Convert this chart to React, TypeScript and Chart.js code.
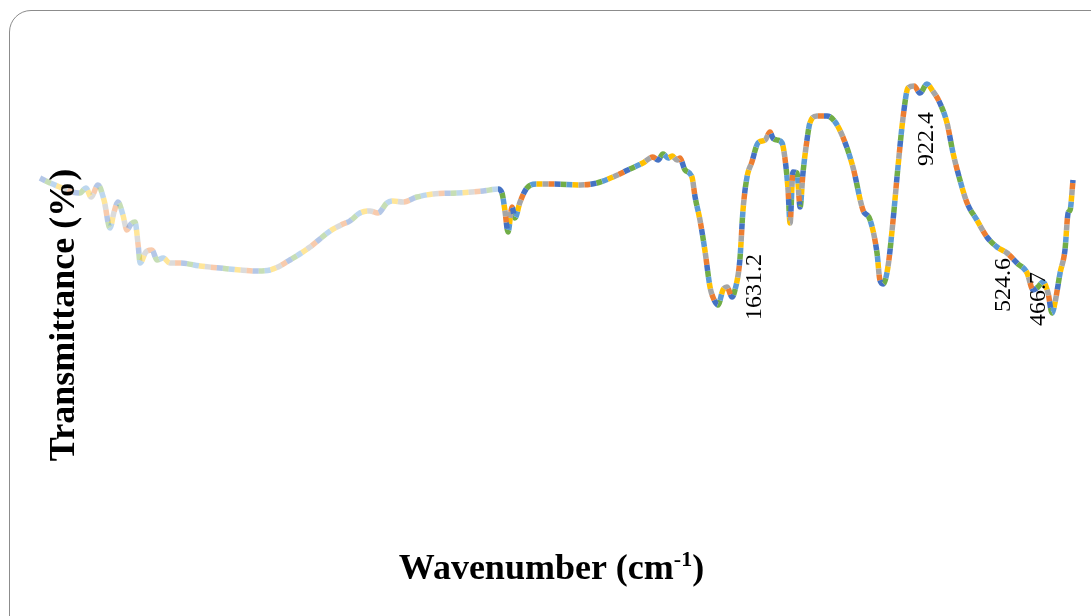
import React, { useEffect, useRef } from "react";
import { Chart, registerables } from "chart.js";

Chart.register(...registerables);

// Wavenumber (cm-1) and transmittance (%)
const wavenumbers = [
  4000, 3965, 3923, 3888, 3861, 3840, 3822, 3798, 3777, 3756, 3742, 3728, 3711, 3697, 3683, 3669,
  3658, 3651, 3631, 3610, 3592, 3571, 3547, 3512, 3442, 3373, 3303, 3244, 3198, 3129, 3059, 2989,
  2944, 2920, 2885, 2850, 2822, 2791, 2770, 2735, 2686, 2630, 2547, 2456, 2404, 2390, 2380, 2369,
  2355, 2345, 2327, 2303, 2268, 2212, 2118, 2059, 2003, 1944, 1899, 1864, 1846, 1829, 1811, 1797,
  1780, 1770, 1752, 1728, 1717, 1700, 1683, 1665, 1655, 1637, 1620, 1606, 1588, 1578, 1561, 1550,
  1536, 1519, 1498, 1473, 1456, 1446, 1432, 1414, 1404, 1393, 1386, 1376, 1362, 1351, 1341, 1327,
  1317, 1292, 1257, 1229, 1202, 1167, 1132, 1107, 1083, 1073, 1062, 1045, 1027, 1010, 992, 975,
  954, 933, 909, 891, 864, 839, 818, 794, 769, 735, 700, 665, 630, 595, 560, 539,
  522, 505, 487, 473, 463, 445, 428, 417, 410, 400,
];
const transmittance = [
  76.4, 75.4, 74.4, 73.6, 73.4, 74.4, 72.6, 75.0, 72.0, 66.4, 69.6, 71.6, 69.0, 66.0, 67.2, 67.6,
  63.0, 59.4, 61.6, 62.0, 60.0, 60.4, 59.4, 59.4, 58.8, 58.4, 58.0, 57.8, 58.0, 60.0, 62.6, 65.8,
  67.2, 67.8, 69.4, 69.8, 69.4, 71.4, 71.8, 71.6, 72.6, 73.2, 73.4, 73.8, 74.2, 73.4, 70.0, 65.6,
  70.6, 68.4, 71.6, 74.4, 75.2, 75.2, 75.0, 75.4, 76.6, 78.2, 79.4, 80.6, 80.0, 81.2, 80.4, 80.8,
  80.0, 80.4, 78.0, 76.6, 72.6, 68.0, 62.0, 54.6, 52.6, 51.0, 54.0, 54.6, 52.6, 54.0, 60.0, 70.0,
  76.6, 79.6, 83.4, 84.0, 85.6, 84.4, 84.0, 83.4, 80.4, 74.0, 67.4, 77.6, 77.4, 70.6, 77.4, 84.0,
  87.4, 88.8, 88.8, 87.6, 84.6, 78.6, 70.0, 68.0, 61.4, 56.0, 55.2, 58.6, 68.0, 78.6, 88.6, 94.4,
  94.8, 93.4, 95.2, 94.0, 91.4, 87.4, 81.4, 76.0, 71.4, 68.0, 64.6, 62.6, 61.4, 59.4, 57.4, 54.0,
  54.6, 55.6, 53.4, 49.4, 51.4, 57.4, 62.0, 69.4, 70.0, 76.0,
];

// Peak annotations (text, and where the text centre sits in data units)
const peakLabels = ["1631.2", "922.4", "524.6", "466.7"];
const peakLabelX = [1508, 909, 640, 518];
const peakLabelY = [54.6, 84.2, 55.0, 52.2];

const seriesColors = ["#4472C4", "#ED7D31", "#A5A5A5", "#FFC000", "#5B9BD5", "#70AD47"];
const fadeAbove = 2397; // region drawn faded in the reference

const xTitle = "Wavenumber (cm";
const xTitleSup = "-1";
const yTitle = "Transmittance (%)";

function hexToRgba(hex: string, a: number) {
  const n = parseInt(hex.slice(1), 16);
  return `rgba(${(n >> 16) & 255},${(n >> 8) & 255},${n & 255},${a})`;
}

const textPlugin = {
  id: "textPlugin",
  afterDatasetsDraw(chart: any) {
    const { ctx, chartArea, scales } = chart;
    ctx.save();
    ctx.fillStyle = "#000";
    ctx.font = "24px 'Liberation Serif', 'Times New Roman', serif";
    ctx.textAlign = "center";
    ctx.textBaseline = "middle";
    peakLabels.forEach((t, i) => {
      const px = scales.x.getPixelForValue(peakLabelX[i]);
      const py = scales.y.getPixelForValue(peakLabelY[i]);
      ctx.save();
      ctx.translate(px, py);
      ctx.rotate(-Math.PI / 2);
      ctx.fillText(t, 0, 0);
      ctx.restore();
    });
    const big = "bold 36px 'Liberation Serif', 'Times New Roman', serif";
    const small = "bold 22px 'Liberation Serif', 'Times New Roman', serif";
    ctx.textAlign = "left";
    ctx.textBaseline = "alphabetic";
    ctx.font = big;
    const w1 = ctx.measureText(xTitle).width;
    const w3 = ctx.measureText(")").width;
    ctx.font = small;
    const w2 = ctx.measureText(xTitleSup).width;
    const cx = (chartArea.left + chartArea.right) / 2 - 5;
    const base = chartArea.bottom + 19;
    let x0 = cx - (w1 + w2 + w3) / 2;
    ctx.font = big;
    ctx.fillText(xTitle, x0, base);
    x0 += w1;
    ctx.font = small;
    ctx.fillText(xTitleSup, x0, base - 13);
    x0 += w2;
    ctx.font = big;
    ctx.fillText(")", x0, base);
    ctx.save();
    ctx.translate(chartArea.left + 25, (chartArea.top + chartArea.bottom) / 2 + 5);
    ctx.rotate(-Math.PI / 2);
    ctx.textAlign = "center";
    ctx.textBaseline = "middle";
    ctx.font = big;
    ctx.fillText(yTitle, 0, 0);
    ctx.restore();
    ctx.restore();
  },
};

export default function App() {
  const ref = useRef<HTMLCanvasElement>(null);
  useEffect(() => {
    if (!ref.current) return;
    const points = wavenumbers.map((w, i) => ({ x: w, y: transmittance[i] }));
    const dash = 6;
    const datasets = seriesColors.map((c, i) => ({
      data: points,
      borderColor: c,
      borderWidth: 5.5,
      borderDash: [dash, dash * (seriesColors.length - 1)],
      borderDashOffset: i * dash,
      borderCapStyle: "butt" as const,
      pointRadius: 0,
      cubicInterpolationMode: "monotone" as const,
      clip: false as any,
      segment: {
        borderColor: (ctx: any) => (ctx.p1.parsed.x > fadeAbove ? hexToRgba(c, 0.4) : undefined),
      },
    }));
    const chart = new Chart(ref.current, {
      type: "line",
      data: { datasets },
      options: {
        animation: false,
        responsive: false,
        devicePixelRatio: 1,
        layout: { padding: { left: 40, right: 18, top: 60, bottom: 56 } },
        plugins: { legend: { display: false }, tooltip: { enabled: false } },
        scales: {
          x: { type: "linear", reverse: true, min: 400, max: 4000, display: false },
          y: { type: "linear", min: 0, max: 100, display: false },
        },
      },
      plugins: [textPlugin],
    });
    return () => chart.destroy();
  }, []);
  return (
    <div style={{ position: "fixed", left: 0, top: 0, width: 1091, height: 616, overflow: "hidden", background: "#fff" }}>
      <div
        style={{
          position: "absolute",
          left: 9,
          top: 10,
          width: 1110,
          height: 640,
          border: "1.3px solid #8c8c8c",
          borderRadius: 22,
          boxSizing: "border-box",
        }}
      />
      <canvas ref={ref} width={1091} height={616} style={{ position: "absolute", left: 0, top: 0 }} />
    </div>
  );
}
